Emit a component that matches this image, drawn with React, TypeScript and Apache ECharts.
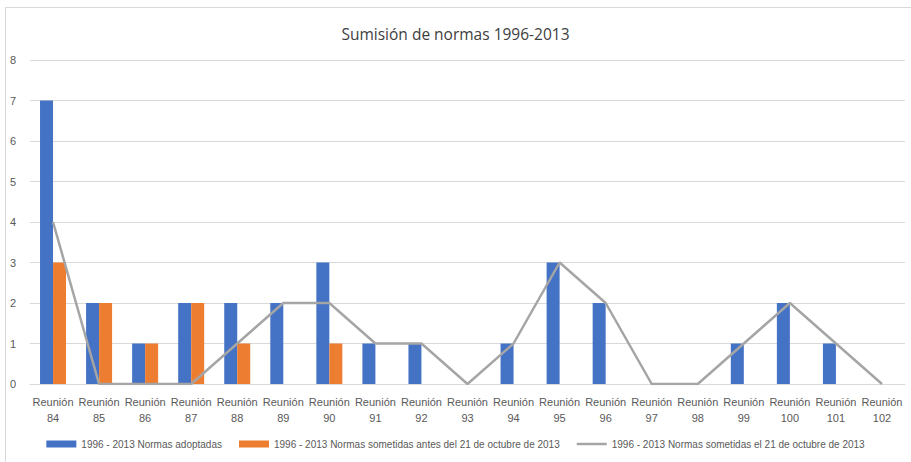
import React, { useEffect, useRef } from "react";
import * as echarts from "echarts";

const categories = ["Reunión\n84","Reunión\n85","Reunión\n86","Reunión\n87","Reunión\n88","Reunión\n89","Reunión\n90","Reunión\n91","Reunión\n92","Reunión\n93","Reunión\n94","Reunión\n95","Reunión\n96","Reunión\n97","Reunión\n98","Reunión\n99","Reunión\n100","Reunión\n101","Reunión\n102"];
const adoptadas = [7,2,1,2,2,2,3,1,1,0,1,3,2,0,0,1,2,1,0];
const sometidasAntes = [3,2,1,2,1,0,1,0,0,0,0,0,0,0,0,0,0,0,0];
const sometidasEl = [4,0,0,0,1,2,2,1,1,0,1,3,2,0,0,1,2,1,0];
const seriesNames = [
  "1996 - 2013 Normas adoptadas",
  "1996 - 2013 Normas sometidas antes del 21 de octubre de 2013",
  "1996 - 2013 Normas sometidas el 21 de octubre de 2013",
];

const SANS = "'Liberation Sans', Arial, sans-serif";
const FONT = "'Open Sans', 'Liberation Sans', sans-serif";

export default function App() {
  const ref = useRef<HTMLDivElement>(null);
  useEffect(() => {
    if (!ref.current) return;
    const chart = echarts.init(ref.current, null, { renderer: "svg" });
    chart.setOption({
      animation: false,
      backgroundColor: "#ffffff",
      title: {
        text: "Sumisión de normas 1996-2013",
        left: "center",
        top: 21,
        textStyle: { fontFamily: FONT, fontSize: 15.5, fontWeight: "normal", color: "#404040" },
      },
      legend: {
        bottom: 8,
        left: "center",
        width: 905,
        itemWidth: 30,
        itemHeight: 7,
        itemGap: 17,
        textStyle: { fontFamily: SANS, fontSize: 10, color: "#595959" },
        data: [
          { name: seriesNames[0], icon: "rect" },
          { name: seriesNames[1], icon: "rect" },
          { name: seriesNames[2], icon: "path://M0,0 L30,0 L30,2.5 L0,2.5 Z" },
        ],
      },
      grid: { left: 30, right: 6, top: 60, bottom: 78, containLabel: false },
      xAxis: {
        type: "category",
        data: categories,
        axisLine: { lineStyle: { color: "#d9d9d9" } },
        axisTick: { show: false },
        axisLabel: { fontFamily: SANS, fontSize: 11, color: "#595959", lineHeight: 16, margin: 10, interval: 0 },
      },
      yAxis: {
        type: "value",
        min: 0,
        max: 8,
        interval: 1,
        axisLine: { show: false },
        axisTick: { show: false },
        splitLine: { lineStyle: { color: "#d9d9d9" } },
        axisLabel: { fontFamily: SANS, fontSize: 11, color: "#595959", margin: 14 },
      },
      series: [
        { name: seriesNames[0], type: "bar", data: adoptadas, barWidth: 13, barGap: "0%", itemStyle: { color: "#4472c4" } },
        { name: seriesNames[1], type: "bar", data: sometidasAntes, barWidth: 13, barGap: "0%", itemStyle: { color: "#ed7d31" } },
        { name: seriesNames[2], type: "line", data: sometidasEl, symbol: "none", lineStyle: { color: "#a5a5a5", width: 2.5 }, itemStyle: { color: "#a5a5a5" } },
      ],
      graphic: [
        { type: "line", shape: { x1: 5, y1: 7.5, x2: 911, y2: 7.5 }, style: { stroke: "#d9d9d9", lineWidth: 1 } },
        { type: "line", shape: { x1: 5.5, y1: 7, x2: 5.5, y2: 462 }, style: { stroke: "#d9d9d9", lineWidth: 1 } },
      ],
    });
    return () => chart.dispose();
  }, []);
  return <div ref={ref} style={{ position: "absolute", left: 0, top: 0, width: 911, height: 462 }} />;
}
